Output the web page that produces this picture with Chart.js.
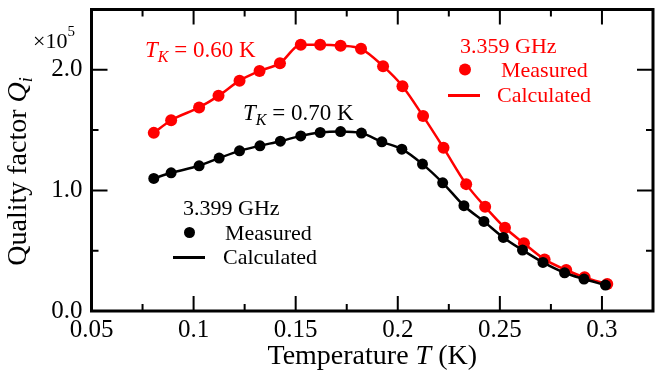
<!DOCTYPE html>
<html>
<head>
<meta charset="utf-8">
<script src="https://cdn.jsdelivr.net/npm/chart.js@4.4.0/dist/chart.umd.min.js"></script>
<style>
    html, body { margin: 0; padding: 0; background: #fff; }
</style>
</head>
<body>
<canvas id="graph" width="664" height="380"></canvas>
<script>

// 3.359 GHz resonator (T_K = 0.60 K)
var tRed = [0.0805, 0.089, 0.1027, 0.1122, 0.1225, 0.1323, 0.1423, 0.1525, 0.162, 0.172, 0.182, 0.1928,
            0.2023, 0.2124, 0.2224, 0.2335, 0.2428, 0.2525, 0.2618, 0.2719, 0.2825, 0.2915, 0.3026];
var qRed = [1.477, 1.582, 1.688, 1.784, 1.91, 1.99, 2.055, 2.207, 2.207, 2.20, 2.174, 2.03,
            1.864, 1.616, 1.353, 1.052, 0.864, 0.69, 0.561, 0.428, 0.34, 0.279, 0.224];

// 3.399 GHz resonator (T_K = 0.70 K)
var tBlack = [0.0805, 0.089, 0.1027, 0.1125, 0.1225, 0.1325, 0.1425, 0.1525, 0.162, 0.172, 0.1822, 0.1922,
              0.202, 0.2121, 0.222, 0.2324, 0.2422, 0.2517, 0.2611, 0.2711, 0.2817, 0.2912, 0.3017];
var qBlack = [1.099, 1.146, 1.204, 1.268, 1.328, 1.37, 1.408, 1.452, 1.48, 1.488, 1.475, 1.403,
              1.342, 1.218, 1.063, 0.873, 0.743, 0.61, 0.505, 0.403, 0.317, 0.265, 0.215];

var xTicks = [0.05, 0.1, 0.15, 0.2, 0.25, 0.3];
var yTicks = [0.0, 1.0, 2.0];

var serif = "'Liberation Serif', 'Times New Roman', serif";

function toPoints(t, q) {
    return t.map(function (v, i) { return {x: v, y: q[i]}; });
}

// draws a run of text pieces [text, font, dy]
function rich(ctx, parts, x, y, color, align) {
    ctx.fillStyle = color;
    ctx.textBaseline = 'alphabetic';
    ctx.textAlign = 'left';
    var w = 0;
    parts.forEach(function (p) { ctx.font = p[1]; w += ctx.measureText(p[0]).width; });
    if (align === 'center') x -= w / 2;
    parts.forEach(function (p) {
        ctx.font = p[1];
        ctx.fillText(p[0], x, y + (p[2] || 0));
        x += ctx.measureText(p[0]).width;
    });
}

var decor = {
    id: 'decor',
    afterDraw: function (chart) {
        var ctx = chart.ctx, a = chart.chartArea;
        var xs = chart.scales.x, ys = chart.scales.y;
        ctx.save();
        ctx.strokeStyle = '#000';
        ctx.lineWidth = 2;
        ctx.beginPath();
        // x ticks, bottom and top
        for (var i = 0; i < xTicks.length; i++) {
            var v = xTicks[i];
            var px = xs.getPixelForValue(v);
            ctx.moveTo(px, a.bottom); ctx.lineTo(px, a.bottom - 15);
            ctx.moveTo(px, a.top); ctx.lineTo(px, a.top + 15);
            var m = xs.getPixelForValue(v + 0.025);
            if (m < a.right - 2) {
                ctx.moveTo(m, a.bottom); ctx.lineTo(m, a.bottom - 7);
                ctx.moveTo(m, a.top); ctx.lineTo(m, a.top + 7);
            }
        }
        // y ticks, left and right
        for (var j = 0; j < yTicks.length; j++) {
            var py = ys.getPixelForValue(yTicks[j]);
            ctx.moveTo(a.left, py); ctx.lineTo(a.left + 16, py);
            ctx.moveTo(a.right, py); ctx.lineTo(a.right - 16, py);
            var my = ys.getPixelForValue(yTicks[j] + 0.5);
            if (my > a.top + 2) {
                ctx.moveTo(a.left, my); ctx.lineTo(a.left + 7, my);
                ctx.moveTo(a.right, my); ctx.lineTo(a.right - 7, my);
            }
        }
        ctx.stroke();

        ctx.lineWidth = 3;
        ctx.strokeRect(a.left, a.top, a.right - a.left, a.bottom - a.top);

        // axis titles
        var f28 = '28px ' + serif, i28 = 'italic 28px ' + serif;
        rich(ctx, [['Temperature ', f28], ['T', i28], [' (K)', f28]], (a.left + a.right) / 2, 363.5, '#000', 'center');

        ctx.save();
        ctx.translate(26, 171.5);
        ctx.rotate(-Math.PI / 2);
        rich(ctx, [['Quality factor ', f28], ['Q', i28], ['i', 'italic 18px ' + serif, 6]], 0, 0, '#000', 'center');
        ctx.restore();

        rich(ctx, [['\u00d710', '22px ' + serif], ['5', '15px ' + serif, -12]], 33, 48, '#000');

        // annotations
        var f22 = '22px ' + serif, f23 = '23px ' + serif, i23 = 'italic 23px ' + serif, iSub = 'italic 16px ' + serif;
        rich(ctx, [['T', i23], ['K', iSub, 5], [' = 0.60 K', f23]], 145, 57, '#ff0000');
        rich(ctx, [['T', i23], ['K', iSub, 5], [' = 0.70 K', f23]], 243, 120, '#000');

        // red legend
        rich(ctx, [['3.359 GHz', f22]], 460, 53, '#ff0000');
        ctx.fillStyle = '#ff0000';
        ctx.beginPath(); ctx.arc(465, 69.5, 6, 0, Math.PI * 2); ctx.fill();
        rich(ctx, [['Measured', f22]], 501, 77, '#ff0000');
        ctx.strokeStyle = '#ff0000'; ctx.lineWidth = 3;
        ctx.beginPath(); ctx.moveTo(448, 95.5); ctx.lineTo(480, 95.5); ctx.stroke();
        rich(ctx, [['Calculated', f22]], 497, 102, '#ff0000');

        // black legend
        rich(ctx, [['3.399 GHz', f22]], 183, 215, '#000');
        ctx.fillStyle = '#000';
        ctx.beginPath(); ctx.arc(189.5, 232.5, 5.5, 0, Math.PI * 2); ctx.fill();
        rich(ctx, [['Measured', f22]], 225, 240, '#000');
        ctx.strokeStyle = '#000'; ctx.lineWidth = 3;
        ctx.beginPath(); ctx.moveTo(173, 257.5); ctx.lineTo(205, 257.5); ctx.stroke();
        rich(ctx, [['Calculated', f22]], 223, 264, '#000');

        ctx.restore();
    }
};

var chart = new Chart(document.getElementById('graph').getContext('2d'), {
    type: 'scatter',
    data: {
        datasets: [
            {
                label: '3.399 GHz measured',
                data: toPoints(tBlack, qBlack),
                showLine: false,
                pointRadius: 5.5,
                pointBackgroundColor: '#000',
                pointBorderWidth: 0,
                order: 1
            },
            {
                label: '3.399 GHz calculated',
                data: toPoints(tBlack, qBlack),
                showLine: true,
                borderColor: '#000',
                borderWidth: 2.5,
                cubicInterpolationMode: 'monotone',
                pointRadius: 0,
                order: 2
            },
            {
                label: '3.359 GHz measured',
                data: toPoints(tRed, qRed),
                showLine: false,
                pointRadius: 6,
                pointBackgroundColor: '#ff0000',
                pointBorderWidth: 0,
                order: 3
            },
            {
                label: '3.359 GHz calculated',
                data: toPoints(tRed, qRed),
                showLine: true,
                borderColor: '#ff0000',
                borderWidth: 2.5,
                cubicInterpolationMode: 'monotone',
                pointRadius: 0,
                order: 4
            }
        ]
    },
    options: {
        responsive: false,
        animation: false,
        devicePixelRatio: 1,
        layout: { padding: { top: 9.5, right: 11, left: 0, bottom: 0 } },
        plugins: {
            legend: { display: false },
            tooltip: { enabled: false }
        },
        scales: {
            x: {
                type: 'linear',
                min: 0.05,
                max: 0.325,
                grid: { display: false, drawTicks: false },
                border: { display: false },
                afterBuildTicks: function (s) { s.ticks = xTicks.map(function (v) { return {value: v}; }); },
                afterFit: function (s) { s.height = 69; s.paddingLeft = 0; s.paddingRight = 0; },
                ticks: {
                    padding: 4,
                    color: '#000',
                    font: { family: serif, size: 25 },
                    callback: function (v) { return String(+v.toFixed(3)); }
                }
            },
            y: {
                min: 0,
                max: 2.5,
                grid: { display: false, drawTicks: false },
                border: { display: false },
                afterBuildTicks: function (s) { s.ticks = yTicks.map(function (v) { return {value: v}; }); },
                afterFit: function (s) { s.width = 91.5; s.paddingTop = 0; s.paddingBottom = 0; },
                ticks: {
                    padding: 9,
                    color: '#000',
                    font: { family: serif, size: 25 },
                    callback: function (v) { return v.toFixed(1); }
                }
            }
        }
    },
    plugins: [decor]
});
</script>
</body>
</html>
